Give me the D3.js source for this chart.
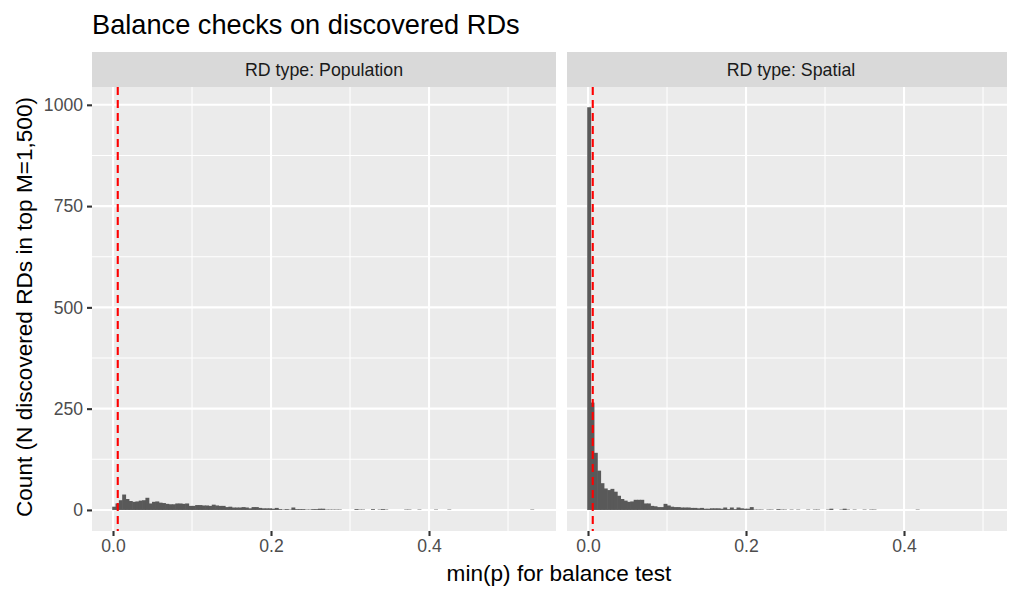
<!DOCTYPE html>
<html>
<head>
<meta charset="utf-8">
<script src="https://cdn.jsdelivr.net/npm/d3@7"></script>
<style>
  html, body { margin: 0; padding: 0; background: #ffffff; }
  svg { display: block; font-family: "Liberation Sans", Arial, Helvetica, sans-serif; }
</style>
</head>
<body>
<svg id="chart" width="1018" height="589"></svg>
<script>
// ---------------- data ----------------
const chartTitle = "Balance checks on discovered RDs";
const facetLabels = ["RD type: Population", "RD type: Spatial"];
const xLabel = "min(p) for balance test";
const yLabel = "Count (N discovered RDs in top M=1,500)";

const binWidth = 0.0042;
const binStart = -0.001;
const thresholdP = 0.006;

// counts per bin (bin i spans binStart + i*binWidth .. +binWidth)
const populationCounts = [
  8,16,24,38,27,22,20,21,23,24,30,16,20,21,18,17,15,14,14,16,
  16,15,16,10,10,12,12,11,11,10,13,11,10,10,7,8,6,6,6,7,
  6,4,7,7,5,4,4,4,3,5,2,1,2,1,6,2,2,2,1,1,
  2,2,3,3,1,1,1,1,1,0,0,0,0,2,1,1,0,0,2,0,
  1,2,1,0,0,0,0,0,1,1,0,0,1,0,0,0,0,1,0,0,
  0,1,0,0,0,0,0,0,0,0,0,0,0,0,0,0,0,0,0,0,
  0,0,0,0,0,0,1
];
const spatialCounts = [
  994,265,141,97,66,53,49,52,45,35,27,23,20,21,25,25,25,16,16,10,
  9,7,7,15,11,8,7,7,6,6,6,5,5,4,5,3,3,4,4,4,
  3,6,2,6,2,6,4,3,3,7,1,1,1,0,1,1,0,2,1,1,
  0,1,0,1,0,0,1,0,1,1,0,0,1,3,0,0,1,3,1,0,
  1,0,0,1,0,1,1,0,0,0,0,0,0,0,0,0,0,0,0,1
];

const xMajorTicks = [0, 0.2, 0.4];
const xMinorTicks = [0.1, 0.3, 0.5];
const yMajorTicks = [0, 250, 500, 750, 1000];
const yMinorTicks = [125, 375, 625, 875];
const xTickLabels = ["0.0", "0.2", "0.4"];
const yTickLabels = ["0", "250", "500", "750", "1000"];

// ---------------- layout ----------------
const svg = d3.select("#chart");
const panelTop = 87, panelBottom = 531, stripTop = 52;
const panels = [
  { left: 92, right: 556, counts: populationCounts, label: facetLabels[0] },
  { left: 567, right: 1007, counts: spatialCounts, label: facetLabels[1] }
];
const pxPerUnit = 790;
const xMinVal = -0.0266;

const y = d3.scaleLinear().domain([-52, 1044]).range([panelBottom, panelTop]);

const barFill = "#595959";
const bgFill = "#EBEBEB";
const stripFill = "#D9D9D9";

panels.forEach((p, pi) => {
  const x = d3.scaleLinear()
    .domain([xMinVal, xMinVal + (p.right - p.left) / pxPerUnit])
    .range([p.left, p.right]);
  const g = svg.append("g");
  const clipId = "clip" + pi;
  svg.append("clipPath").attr("id", clipId).append("rect")
    .attr("x", p.left).attr("y", panelTop).attr("width", p.right - p.left).attr("height", panelBottom - panelTop);

  // background
  g.append("rect").attr("x", p.left).attr("y", panelTop)
    .attr("width", p.right - p.left).attr("height", panelBottom - panelTop).attr("fill", bgFill);
  // strip
  g.append("rect").attr("x", p.left).attr("y", stripTop)
    .attr("width", p.right - p.left).attr("height", panelTop - stripTop).attr("fill", stripFill);
  g.append("text").attr("x", (p.left + p.right) / 2 + (pi === 1 ? 4 : 0)).attr("y", 76)
    .attr("text-anchor", "middle").attr("font-size", 17.8).attr("fill", "#1A1A1A").text(p.label);

  const grid = g.append("g").attr("clip-path", `url(#${clipId})`);
  // minor grid
  yMinorTicks.forEach(v => grid.append("line").attr("x1", p.left).attr("x2", p.right)
    .attr("y1", y(v)).attr("y2", y(v)).attr("stroke", "#fff").attr("stroke-width", 1.07));
  xMinorTicks.forEach(v => grid.append("line").attr("x1", x(v)).attr("x2", x(v))
    .attr("y1", panelTop).attr("y2", panelBottom).attr("stroke", "#fff").attr("stroke-width", 1.07));
  // major grid
  yMajorTicks.forEach(v => grid.append("line").attr("x1", p.left).attr("x2", p.right)
    .attr("y1", y(v)).attr("y2", y(v)).attr("stroke", "#fff").attr("stroke-width", 2.1));
  xMajorTicks.forEach(v => grid.append("line").attr("x1", x(v)).attr("x2", x(v))
    .attr("y1", panelTop).attr("y2", panelBottom).attr("stroke", "#fff").attr("stroke-width", 2.1));

  // bars
  const bins = p.counts.map((c, i) => ({ x0: binStart + i * binWidth, x1: binStart + (i + 1) * binWidth, c }))
    .filter(d => d.c > 0);
  grid.selectAll("rect.bar").data(bins).enter().append("rect")
    .attr("class", "bar")
    .attr("x", d => x(d.x0)).attr("width", d => x(d.x1) - x(d.x0) + 0.6)
    .attr("y", d => y(d.c)).attr("height", d => y(0) - y(d.c))
    .attr("fill", barFill);

  // threshold line
  grid.append("line").attr("x1", x(thresholdP)).attr("x2", x(thresholdP))
    .attr("y1", panelTop).attr("y2", panelBottom)
    .attr("stroke", "#FF0000").attr("stroke-width", 2.1).attr("stroke-dasharray", "8,5");

  // x axis
  const xAxis = d3.axisBottom(x).tickValues(xMajorTicks)
    .tickFormat((d, i) => xTickLabels[i]).tickSize(5).tickPadding(4);
  const xa = g.append("g").attr("transform", `translate(0,${panelBottom})`).call(xAxis);
  xa.select(".domain").remove();
  xa.selectAll("line").attr("stroke", "#333333").attr("stroke-width", 2.1);
  xa.selectAll("text").attr("font-size", 17.6).attr("fill", "#4D4D4D")
    .attr("font-family", "Liberation Sans, Arial, sans-serif");

  if (pi === 0) {
    const yAxis = d3.axisLeft(y).tickValues(yMajorTicks)
      .tickFormat((d, i) => yTickLabels[i]).tickSize(5).tickPadding(4);
    const ya = g.append("g").attr("transform", `translate(${p.left},0)`).call(yAxis);
    ya.select(".domain").remove();
    ya.selectAll("line").attr("stroke", "#333333").attr("stroke-width", 2.1);
    ya.selectAll("text").attr("font-size", 17.6).attr("fill", "#4D4D4D")
      .attr("font-family", "Liberation Sans, Arial, sans-serif");
  }
});

// titles
svg.append("text").attr("x", 92).attr("y", 34).attr("font-size", 27.2).attr("fill", "#000")
  .text(chartTitle);
svg.append("text").attr("x", 559).attr("y", 581).attr("text-anchor", "middle")
  .attr("font-size", 22.6).attr("fill", "#000").text(xLabel);
svg.append("text").attr("transform", `translate(32,${(panelTop + panelBottom) / 2 - 2}) rotate(-90)`)
  .attr("text-anchor", "middle").attr("font-size", 22.6).attr("fill", "#000").text(yLabel);
</script>
</body>
</html>
